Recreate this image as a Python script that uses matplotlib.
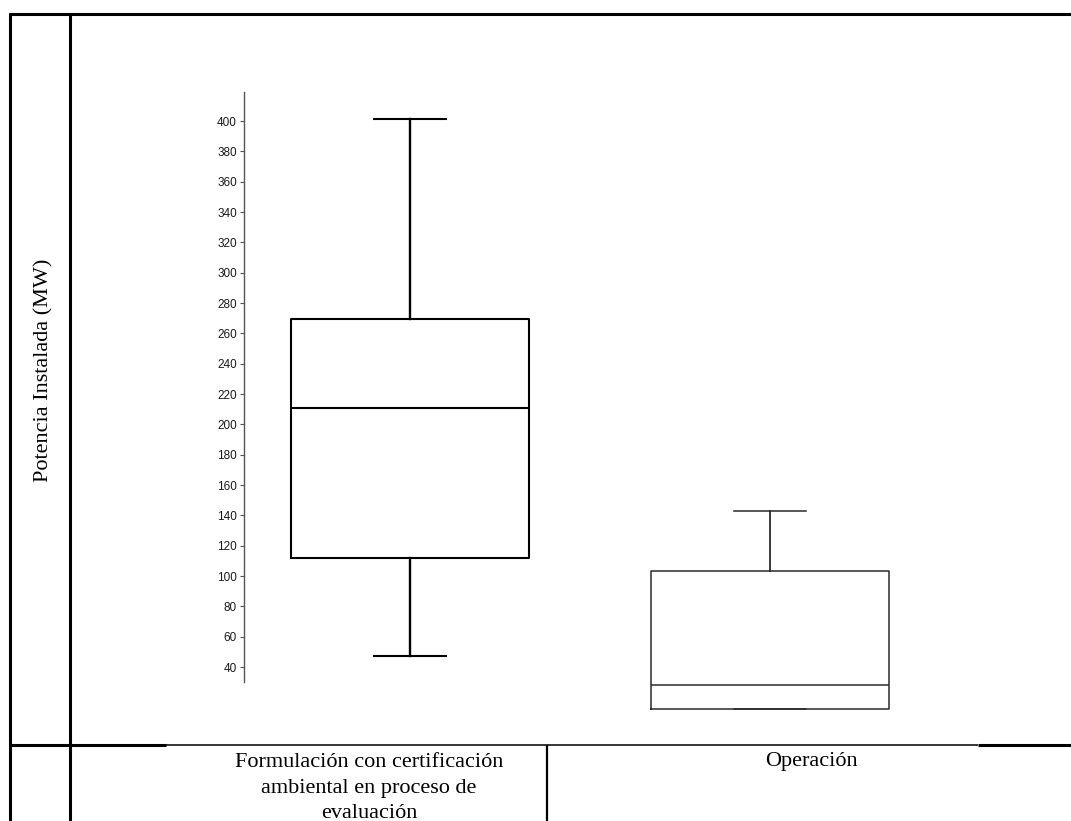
import matplotlib
matplotlib.use("Agg")
import matplotlib.pyplot as plt
from matplotlib.lines import Line2D

W, H = 1071, 821

categories = ["Formulación con certificación\nambiental en proceso de\nevaluación", "Operación"]
whislo = [47.5, 12.3]
q1 = [111.9, 12.3]
med = [210.8, 28.1]
q3 = [269.5, 103.3]
whishi = [401.4, 142.9]
yticks = list(range(40, 401, 20))

fig = plt.figure(figsize=(W / 100, H / 100), dpi=100)


def fx(px):
    return px / W


def fy(py):
    return 1 - py / H


# axes: left spine at x=244px, spans y 92..720px
ax = fig.add_axes([fx(244), fy(720), fx(1000) - fx(244), fy(92) - fy(720)])

styles = [("black", 1.5), ("#2a2a2a", 1.1)]
for i in range(2):
    st = dict(whislo=whislo[i], q1=q1[i], med=med[i], q3=q3[i],
              whishi=whishi[i], fliers=[], label=str(i))
    col, lw = styles[i]
    ax.bxp([st], positions=[i + 1], widths=0.661, capwidths=0.2,
           showfliers=False,
           boxprops=dict(color=col, linewidth=lw),
           medianprops=dict(color=col, linewidth=lw),
           whiskerprops=dict(color=col, linewidth=lw + 0.2),
           capprops=dict(color=col, linewidth=lw))
for a in ax.get_children():
    if isinstance(a, Line2D):
        a.set_clip_on(False)

ax.set_xlim(0.5389, 2.6389)
ax.set_ylim(5.05, 419.2)
ax.set_yticks(yticks)
ax.set_yticklabels([str(t) for t in yticks], fontsize=8.5, family="Liberation Sans", color="#1a1a1a")
ax.tick_params(axis="y", length=3, width=0.8, color="#555555", pad=2)
ax.set_xticks([])
for s in ["top", "right", "bottom"]:
    ax.spines[s].set_visible(False)
ax.spines["left"].set_color("#555555")
ax.spines["left"].set_linewidth(1.0)
ax.spines["left"].set_bounds(30.1, 419.2)
ax.patch.set_alpha(0)


def hline(y, x0, x1, lw):
    fig.add_artist(Line2D([fx(x0), fx(x1)], [fy(y), fy(y)], color="black", linewidth=lw,
                          transform=fig.transFigure, solid_capstyle="butt"))


def vline(x, y0, y1, lw):
    fig.add_artist(Line2D([fx(x), fx(x)], [fy(y0), fy(y1)], color="black", linewidth=lw,
                          transform=fig.transFigure, solid_capstyle="butt"))


# table borders
hline(14, 9, 1071, 2.2)
vline(10, 13, 821, 2.2)
vline(70, 13, 821, 2.2)
hline(745, 9, 166, 2.2)
hline(745, 166, 978, 1.1)
hline(745, 978, 1071, 2.2)
vline(547, 745, 821, 1.6)

fig.text(fx(44), fy(370), "Potencia Instalada (MW)", rotation=90, ha="center", va="center",
         fontsize=16, family="Liberation Serif")
# the last line runs off the bottom edge, as in the source
fig.text(fx(369), fy(753), categories[0], ha="center", va="top", fontsize=16,
         family="Liberation Serif", linespacing=1.47)
fig.text(fx(811), fy(752), categories[1], ha="center", va="top", fontsize=16,
         family="Liberation Serif")

fig.savefig("out.png", dpi=100)
